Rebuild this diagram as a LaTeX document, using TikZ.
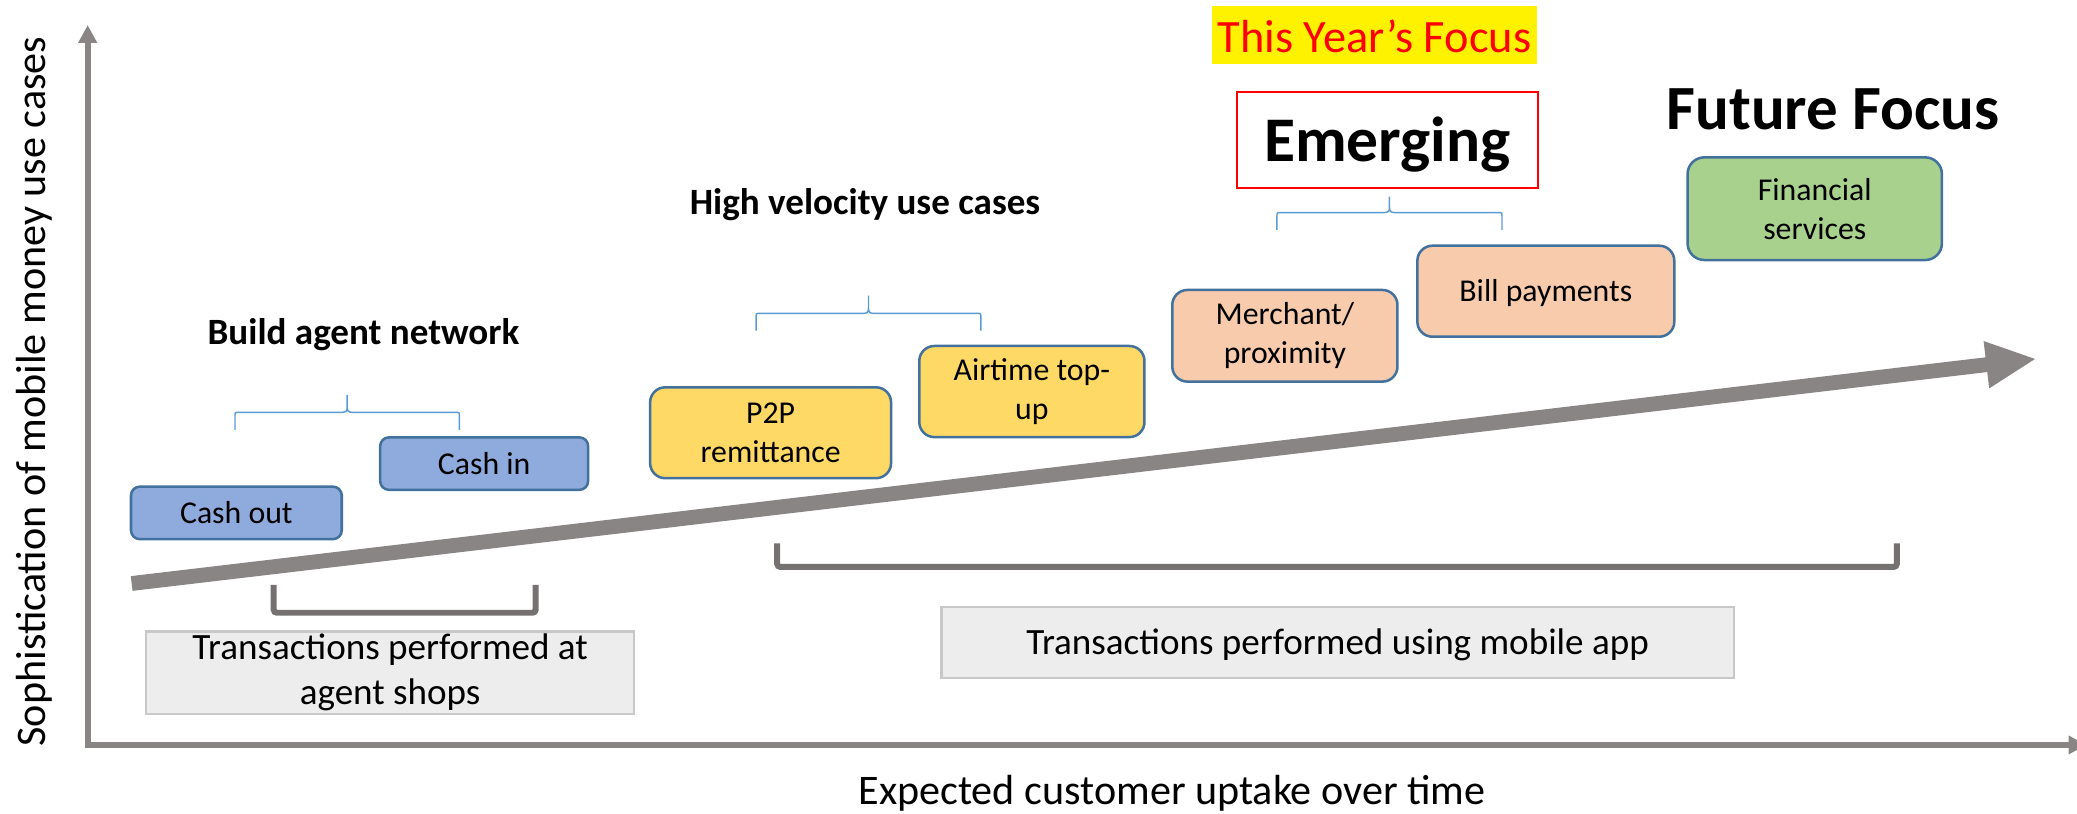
\documentclass[tikz,border=0pt]{standalone}
\usepackage{fontspec}
\setmainfont{Carlito}
\usetikzlibrary{arrows.meta}

\definecolor{axisgrey}{RGB}{137,133,133}
\definecolor{bracketgrey}{RGB}{118,113,113}
\definecolor{boxedge}{RGB}{65,113,156}
\definecolor{bluefill}{RGB}{143,170,220}
\definecolor{yellowfill}{RGB}{255,217,102}
\definecolor{peachfill}{RGB}{248,203,173}
\definecolor{greenfill}{RGB}{169,209,142}
\definecolor{greyfill}{RGB}{237,237,237}
\definecolor{greyedge}{RGB}{200,200,200}
\definecolor{braceblue}{RGB}{91,155,213}

\newcommand\boxfont{\fontsize{12}{14.65}\selectfont}
\newcommand\notefont{\fontsize{14}{17}\selectfont}
\newcommand\axisfont{\fontsize{15.9}{19}\selectfont}
\newcommand\headfont{\bfseries\fontsize{14}{17}\selectfont}
\newcommand\bigheadfont{\bfseries\fontsize{24}{29}\selectfont}

% curly brace opening downwards: x-left, x-right, leg end, bar, peak
\newcommand\bluebrace[5]{%
  \pgfmathsetmacro\bxm{(#1+#2)/2}%
  \draw[bracestyle] (#1,#3) -- (#1,#4+3) .. controls (#1,#4) .. (#1+3,#4)
    -- (\bxm-4,#4) .. controls (\bxm-1,#4) and (\bxm,#4-1) .. (\bxm,#4-4)
    -- (\bxm,#5) -- (\bxm,#4-4)
    .. controls (\bxm,#4-1) and (\bxm+1,#4) .. (\bxm+4,#4)
    -- (#2-3,#4) .. controls (#2,#4) .. (#2,#4+3) -- (#2,#3);}

\begin{document}
\begin{tikzpicture}[x=0.5pt,y=-0.5pt,
  usecase/.style={draw=boxedge, line width=0.95pt, inner sep=0pt,
    align=center, font=\boxfont, text=black},
  oneline/.style={text height=11.4pt, text depth=3.4pt},
  agentcase/.style={usecase, fill=bluefill, rounded corners=3.3pt},
  velocitycase/.style={usecase, fill=yellowfill, rounded corners=5.7pt},
  emergingcase/.style={usecase, fill=peachfill, rounded corners=5.7pt},
  futurecase/.style={usecase, fill=greenfill, rounded corners=6.3pt},
  channelbox/.style={draw=greyedge, fill=greyfill, line width=0.8pt,
    inner sep=0pt, align=center, font=\notefont},
  bracestyle/.style={draw=braceblue, line width=0.55pt},
  channelbracket/.style={draw=bracketgrey, line width=2.25pt,
    rounded corners=1.2pt},
  axisline/.style={draw=axisgrey, line width=2.25pt,
    {Triangle[length=6.7pt,width=6.7pt]}-{Triangle[length=6.7pt,width=6.7pt]}}
]
\useasboundingbox (0,0) rectangle (1568,614);

% axes
\draw[axisline] (66.2,18.9) -- (66.2,562.4) -- (1575,562.4);
\node[font=\axisfont, rotate=90, anchor=base] (ylabel) at (34.7,295.5)
  {Sophistication of mobile money use cases};
\node[font=\axisfont, anchor=base] (xlabel) at (884.7,607.7)
  {Expected customer uptake over time};

% growth arrow
\fill[axisgrey] (98.74,434.94) -- (1498.90,269.77) -- (1497.45,257.45)
  -- (1536.3,271) -- (1501.67,293.21) -- (1500.22,280.89)
  -- (100.06,446.06) -- cycle;

% use cases
\node[agentcase, oneline, minimum width=79.55pt, minimum height=19.8pt]
  (cashout) at (178.45,387.2) {Cash out};
\node[agentcase, oneline, minimum width=78.5pt, minimum height=19.8pt]
  (cashin) at (365.5,350) {Cash in};
\node[velocitycase, minimum width=90.95pt, minimum height=34.3pt]
  (p2p) at (581.75,326.7) {P2P\\remittance};
\node[velocitycase, minimum width=85pt, minimum height=34.4pt]
  (airtime) at (779,295.6) {Airtime top-\\up};
\node[emergingcase, minimum width=85pt, minimum height=34.6pt]
  (merchant) at (970,253.5) {Merchant/\\proximity};
\node[emergingcase, oneline, minimum width=97pt, minimum height=34.35pt]
  (bill) at (1167,219.85) {Bill payments};
\node[futurecase, minimum width=96pt, minimum height=38.75pt]
  (financial) at (1370,157.55) {Financial\\services};

% group braces and headings
\bluebrace{177.4}{346.8}{324.6}{311.3}{298.2}
\bluebrace{570.8}{740.5}{249.6}{236.6}{223.2}
\bluebrace{964}{1133.9}{173.6}{160.5}{148.5}

\node[font=\headfont, anchor=base] (agenthead) at (274.4,260.3)
  {Build agent network};
\node[font=\headfont, anchor=base] (velocityhead) at (653,161.6)
  {High velocity use cases};
\node[draw=red, line width=0.75pt, inner sep=0pt, font=\bigheadfont,
  text height=20pt, text depth=3.7pt,
  minimum width=113.85pt, minimum height=36.5pt]
  (emerging) at (1047.45,105.7) {Emerging};
\node[fill=yellow, inner sep=0pt, text=red,
  font=\fontsize{17.5}{21}\selectfont,
  text height=16.6pt, text depth=3.35pt,
  minimum width=122.4pt, minimum height=22.05pt]
  (thisyear) at (1037.6,26.55) {This Year’s Focus};
\node[font=\bfseries\fontsize{23.75}{28}\selectfont, anchor=base]
  (futurehead) at (1383.75,98.1) {Future Focus};

% channel brackets and notes
\draw[channelbracket] (206.6,441.5) -- (206.6,462.6) -- (404.4,462.6)
  -- (404.4,441.5);
\draw[channelbracket] (586.7,410.2) -- (586.7,428) -- (1432,428)
  -- (1432,410.2);
\node[channelbox, minimum width=184.05pt, minimum height=31.1pt]
  (agentshops) at (294.55,507.8) {Transactions performed at\\agent shops};
\node[channelbox, text height=13.3pt, text depth=4.5pt,
  minimum width=299pt, minimum height=27pt]
  (mobileapp) at (1009.8,485) {Transactions performed using mobile app};
\end{tikzpicture}
\end{document}
